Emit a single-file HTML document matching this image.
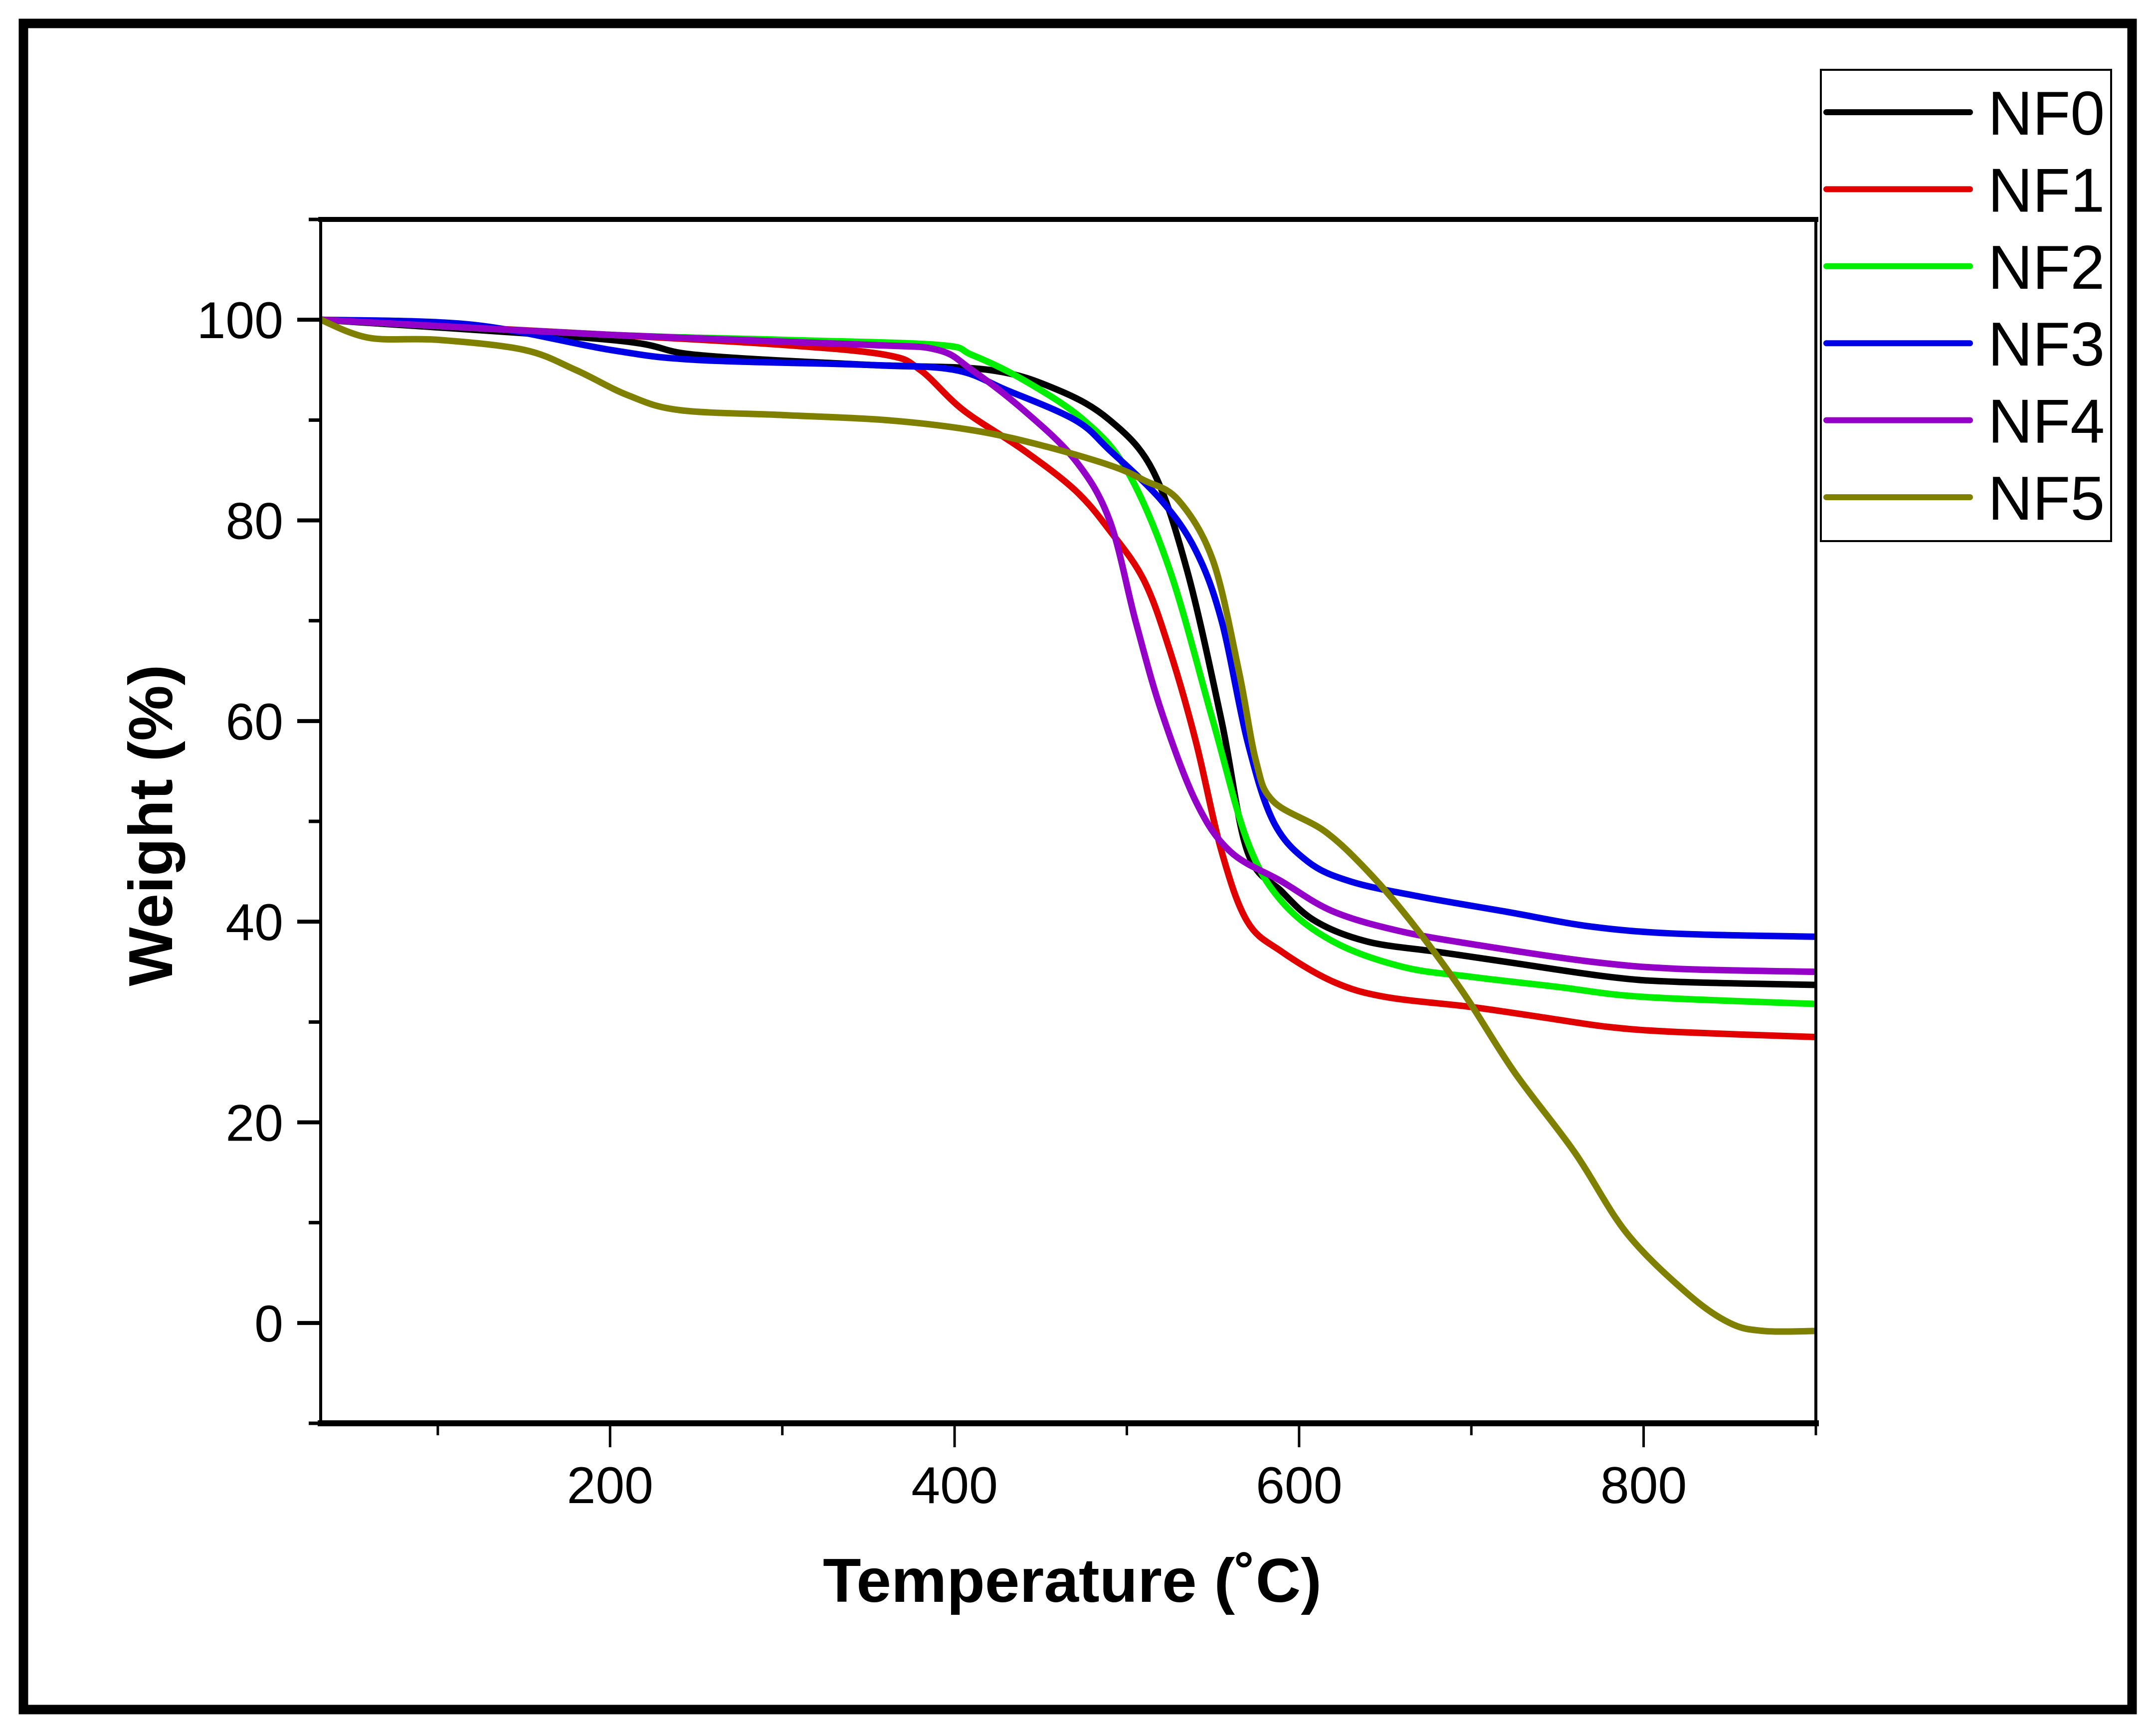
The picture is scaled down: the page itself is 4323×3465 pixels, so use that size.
<!DOCTYPE html>
<html><head><meta charset="utf-8"><style>
html,body{margin:0;padding:0;background:#fff;}
svg{display:block;}
text{font-family:"Liberation Sans",Arial,sans-serif;}
</style></head><body>
<svg id="chart" width="4323" height="3465" viewBox="0 0 4323 3465">
<rect x="47" y="47" width="4228" height="3381" fill="none" stroke="#000" stroke-width="19"/>
<g id="marks"></g>
<g id="axes"></g>
<text x="2150" y="3212" text-anchor="middle" font-size="124" font-weight="bold" textLength="1000" lengthAdjust="spacingAndGlyphs">Temperature (˚C)</text>
<text transform="translate(345,1655) rotate(-90)" text-anchor="middle" font-size="124" font-weight="bold" textLength="645" lengthAdjust="spacingAndGlyphs">Weight (%)</text>
<g id="legend">
<rect x="3651" y="140" width="582" height="945" fill="#fff" stroke="#000" stroke-width="4"/>
</g>
</svg>
<script>
const seriesNames = ["NF0","NF1","NF2","NF3","NF4","NF5"];
const seriesColors = ["#000000","#e00000","#00ee00","#0000e6","#9400c8","#808000"];
const xTicks = [200,400,600,800];
const xMinor = [100,300,500,700,900];
const yTicks = [0,20,40,60,80,100];
const yMinor = [-10,10,30,50,70,90,110];
const nf0X = [32,200,250,350,420,460,490,515,535,555,570,590,610,640,680,720,780,820,900];
const nf0Y = [100,98,96.5,95.5,95,93,90,85,75,60,47,43,40,38,37,36,34.5,34,33.7];
const nf1X = [32,200,300,360,380,405,440,470,490,510,525,540,555,570,590,620,650,700,740,780,820,900];
const nf1Y = [100,98.5,97.5,96.5,95,91,87,83,79,74,67,58,47,40,37,34,32.5,31.5,30.5,29.5,29,28.5];
const nf2X = [32,200,300,390,410,440,475,500,525,550,570,590,620,660,700,750,800,900];
const nf2Y = [100,98.5,98,97.5,96.5,94,90,85,75,60,48,42,38,35.5,34.5,33.5,32.5,31.8];
const nf3X = [32,120,200,250,350,400,430,470,490,520,540,555,570,585,605,630,670,720,770,820,900];
const nf3Y = [100,99.5,97,96,95.5,95,93,90,87,82,77,70,58,50,46,44,42.5,41,39.5,38.8,38.5];
const nf4X = [32,200,350,390,410,440,470,490,505,520,540,560,590,620,660,710,770,820,900];
const nf4Y = [100,98.5,97.5,97,95,91,86,80,70,61,52,47,44,41,39,37.5,36,35.3,35];
const nf5X = [32,60,100,150,180,210,240,300,360,410,450,490,510,530,550,565,575,585,615,640,665,695,725,760,790,825,850,870,900];
const nf5Y = [100,98.2,98,97,95,92.5,91,90.5,90,89,87.5,85.5,84,82,76,65,56,52,49,45,40,33,25,17,9,3,0,-0.8,-0.8];
const allX = [nf0X,nf1X,nf2X,nf3X,nf4X,nf5X];
const allY = [nf0Y,nf1Y,nf2Y,nf3Y,nf4Y,nf5Y];

const NS="http://www.w3.org/2000/svg";
const L=643,R=3641,T=440,B=2854, XMIN=32,XMAX=900,YMIN=-10,YMAX=110;
function sx(v){return L+(v-XMIN)/(XMAX-XMIN)*(R-L);}
function sy(v){return B-(v-YMIN)/(YMAX-YMIN)*(B-T);}
function mk(tag,attrs,parent){const e=document.createElementNS(NS,tag);for(const k in attrs)e.setAttribute(k,attrs[k]);parent.appendChild(e);return e;}
function pathFor(xs,ys){
  const p=xs.map((x,i)=>[sx(x),sy(ys[i])]);
  let d="M"+p[0][0]+","+p[0][1];
  for(let i=0;i<p.length-1;i++){
    const p0=p[Math.max(0,i-1)],p1=p[i],p2=p[i+1],p3=p[Math.min(p.length-1,i+2)];
    const c1=[p1[0]+(p2[0]-p0[0])/6,p1[1]+(p2[1]-p0[1])/6];
    const c2=[p2[0]-(p3[0]-p1[0])/6,p2[1]-(p3[1]-p1[1])/6];
    d+=" C"+c1[0]+","+c1[1]+" "+c2[0]+","+c2[1]+" "+p2[0]+","+p2[1];
  }
  return d;
}
const marks=document.getElementById('marks');
for(let s=0;s<seriesNames.length;s++){
  const el=mk('path',{d:pathFor(allX[s],allY[s]),fill:'none',stroke:seriesColors[s],'stroke-width':13,'stroke-linejoin':'round'},marks);
  
  
}
const axes=document.getElementById('axes');
const frame=[[L,T,R,T,10],[L,B,R,B,12],[L,T,L,B,6],[R,T,R,B,6]];
frame.forEach((f,i)=>{
  const el=mk('line',{x1:f[0],y1:f[1],x2:f[2],y2:f[3],stroke:'#000','stroke-width':f[4],'stroke-linecap':'square'},axes);
  
  
});
xTicks.forEach(v=>{
  const t=mk('line',{x1:sx(v),y1:B,x2:sx(v),y2:B+48,stroke:'#000','stroke-width':5},axes);
  
  
  const lb=mk('text',{x:sx(v),y:B+160,'text-anchor':'middle','font-size':104},axes);
  lb.textContent=v;
  
  
});
xMinor.forEach(v=>{
  const t=mk('line',{x1:sx(v),y1:B,x2:sx(v),y2:B+24,stroke:'#000','stroke-width':5},axes);
  
  
});
yTicks.forEach(v=>{
  const t=mk('line',{x1:L-47,y1:sy(v),x2:L,y2:sy(v),stroke:'#000','stroke-width':8},axes);
  
  
  const lb=mk('text',{x:L-75,y:sy(v)+37,'text-anchor':'end','font-size':104},axes);
  lb.textContent=v;
  
  
});
yMinor.forEach(v=>{
  const t=mk('line',{x1:L-24,y1:sy(v),x2:L,y2:sy(v),stroke:'#000','stroke-width':7},axes);
  
  
});
const legend=document.getElementById('legend');
seriesNames.forEach((n,i)=>{
  const y=225+i*154.4;
  const ln=mk('line',{x1:3662,y1:y,x2:3950,y2:y,stroke:seriesColors[i],'stroke-width':12,'stroke-linecap':'round'},legend);
  
  
  const tx=mk('text',{x:3986,y:y+45,'font-size':124},legend);
  tx.textContent=n;
  
  
});
</script>
</body></html>
